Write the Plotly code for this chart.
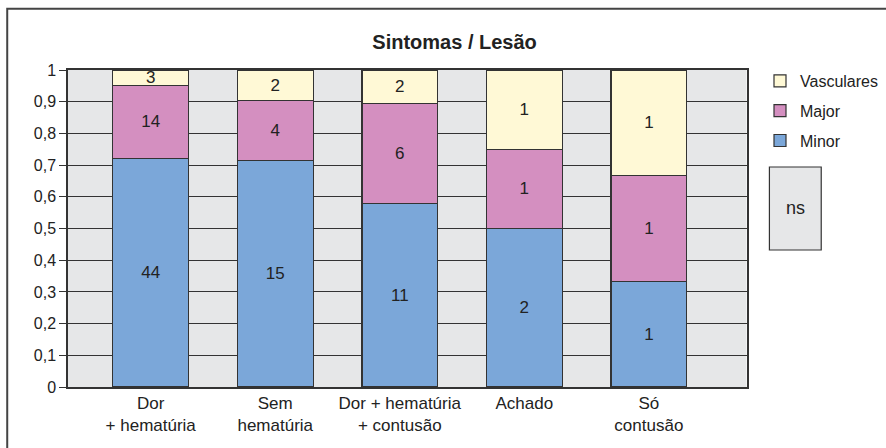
import plotly.graph_objects as go

categories = ["Dor<br>+ hematúria", "Sem<br>hematúria", "Dor + hematúria<br>+ contusão", "Achado", "Só<br>contusão"]
minor = [44, 15, 11, 2, 1]
major = [14, 4, 6, 1, 1]
vasculares = [3, 2, 2, 1, 1]
tick_vals = [0, 0.1, 0.2, 0.3, 0.4, 0.5, 0.6, 0.7, 0.8, 0.9, 1]
tick_text = ["0", "0,1", "0,2", "0,3", "0,4", "0,5", "0,6", "0,7", "0,8", "0,9", "1"]

FONT = "Liberation Sans, Arial, Helvetica, sans-serif"
DARK = "#333333"
TXT = "#222222"

series = [("Minor", minor, "#7ba7d9", 3), ("Major", major, "#d48fc0", 2), ("Vasculares", vasculares, "#fff9d6", 1)]

fig = go.Figure()
for name, vals, col, rank in series:
    fig.add_trace(go.Bar(
        name=name, x=categories, y=vals, text=vals, texttemplate="%{text}",
        textposition="inside", insidetextanchor="middle", textangle=0,
        constraintext="none",
        textfont=dict(family=FONT, size=17, color=TXT),
        marker=dict(color=col, line=dict(color=DARK, width=1.2)),
        legendgroup=name, legendrank=rank,
    ))

L, R, T, B = 68, 137, 70, 61
W, H = 886, 448
pw, ph = W - L - R, H - T - B

def px(x):
    return (x - L) / pw

def py(y):
    return (H - B - y) / ph

fig.update_layout(
    width=W, height=H,
    margin=dict(l=L, r=R, t=T, b=B),
    barmode="stack", barnorm="fraction", bargap=0.392,
    paper_bgcolor="white", plot_bgcolor="#e6e7e8",
    font=dict(family=FONT, size=16, color=TXT),
    title=dict(text="<b>Sintomas / Lesão</b>", font=dict(size=20, color=TXT),
               x=px(456), xref="paper", xanchor="center",
               y=1 - 42 / H, yref="container", yanchor="middle"),
    showlegend=True,
    legend=dict(traceorder="grouped", tracegroupgap=6,
                xref="container", yref="container",
                x=760 / W, xanchor="left", y=1 - 64 / H, yanchor="top",
                bgcolor="rgba(0,0,0,0)", font=dict(size=16, color=TXT),
                itemclick=False),
    xaxis=dict(type="category", range=[-0.664, 4.784], showgrid=False, ticks="",
               showline=True, mirror=True, linecolor=DARK, linewidth=1.5,
               tickfont=dict(size=17, color=TXT)),
    yaxis=dict(range=[0, 1], tickvals=tick_vals, ticktext=tick_text,
               showgrid=True, gridcolor=DARK, gridwidth=1,
               ticks="outside", ticklen=7, tickcolor=DARK, tickwidth=1.2,
               showline=True, mirror=True, linecolor=DARK, linewidth=1.5,
               zeroline=False, tickfont=dict(size=16, color=TXT)),
    shapes=[
        dict(type="rect", xref="paper", yref="paper",
             x0=px(772), x1=px(824), y0=py(250), y1=py(167),
             fillcolor="#e6e7e8", line=dict(color=DARK, width=1.2)),
        dict(type="path", xref="paper", yref="paper",
             path=f"M {px(7)},{py(470)} L {px(7)},{py(8.7)} L {px(900)},{py(8.7)}",
             line=dict(color="#444444", width=2)),
    ],
    annotations=[
        dict(text="ns", xref="paper", yref="paper", x=px(798), y=py(208.5),
             showarrow=False, font=dict(size=18, color=TXT),
             xanchor="center", yanchor="middle"),
    ],
)

fig.write_html("out.html", config={"displayModeBar": False},
               post_script="document.body.style.margin='0';")
